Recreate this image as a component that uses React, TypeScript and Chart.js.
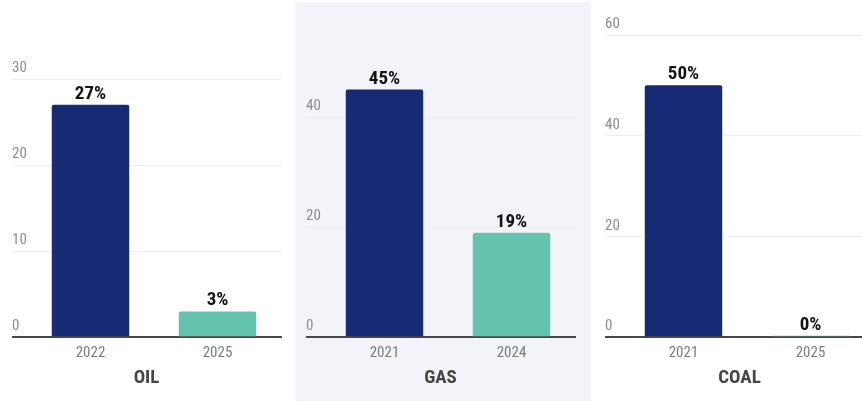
import React, { useEffect, useRef } from "react";
import { Chart, registerables } from "chart.js";
Chart.register(...registerables);

const FONT = '"Liberation Sans Narrow", "Roboto Condensed", Roboto, sans-serif';

const panelTitles = ["OIL", "GAS", "COAL"];
const oilYears = ["2022", "2025"];
const oilValues = [27, 3];
const gasYears = ["2021", "2024"];
const gasValues = [45, 19];
const coalYears = ["2021", "2025"];
const coalValues = [50, 0.3];
const axisMax = [30, 55, 60];
const axisStep = [10, 20, 20];

const NAVY = "#172a74";
const TEAL = "#63c3ad";

const valueLabelPlugin = {
  id: "valueLabels",
  afterDatasetsDraw(chart: any) {
    const ctx = chart.ctx;
    const meta = chart.getDatasetMeta(0);
    const data = chart.data.datasets[0].data;
    ctx.save();
    ctx.font = `bold 19px ${FONT}`;
    ctx.fillStyle = "#141414";
    ctx.textAlign = "center";
    ctx.textBaseline = "alphabetic";
    meta.data.forEach((bar: any, i: number) => {
      ctx.fillText(`${Math.round(data[i])}%`, bar.x, bar.y - 6);
    });
    ctx.restore();
  },
};

function Panel(props: {
  labels: string[];
  values: number[];
  max: number;
  step: number;
  title: string;
  top: number;
}) {
  const ref = useRef<HTMLCanvasElement>(null);
  useEffect(() => {
    if (!ref.current) return;
    const chart = new Chart(ref.current, {
      type: "bar",
      data: {
        labels: props.labels,
        datasets: [
          {
            data: props.values,
            backgroundColor: [NAVY, TEAL],
            borderRadius: 2,
            borderSkipped: "bottom",
            barPercentage: 0.61,
            categoryPercentage: 1,
          },
        ],
      },
      options: {
        responsive: false,
        animation: false,
        devicePixelRatio: 1,
        layout: { padding: { left: 11, right: 16, top: props.top, bottom: 0 } },
        plugins: {
          legend: { display: false },
          tooltip: { enabled: false },
          title: {
            display: true,
            position: "bottom",
            text: props.title,
            color: "#454545",
            font: { family: FONT, size: 19, weight: "bold", lineHeight: 1.2 },
            padding: { top: 5, bottom: 11 },
          },
        },
        scales: {
          x: {
            z: 1,
            grid: { display: false, drawTicks: false },
            border: { display: true, color: "#484848", width: 2 },
            ticks: {
              color: "#7a7a7a",
              font: { family: FONT, size: 15, lineHeight: 1.2 },
              padding: 7,
            },
            afterFit: (s: any) => {
              s.paddingLeft = 0;
              s.paddingRight = 0;
              s.height = 25;
            },
          },
          y: {
            min: 0,
            max: props.max,
            border: { display: false },
            grid: {
              color: (c: any) => (c.tick && c.tick.value === 0 ? "#484848" : "#eceef2"),
              lineWidth: (c: any) => (c.tick && c.tick.value === 0 ? 2 : 1),
              drawTicks: true,
              tickLength: 15,
            },
            ticks: {
              stepSize: props.step,
              includeBounds: false,
              crossAlign: "far",
              labelOffset: -10.5,
              color: "#8d8d8d",
              font: { family: FONT, size: 15, lineHeight: 1.2 },
            },
            afterFit: (s: any) => {
              s.width = 15;
              s.paddingTop = 0;
              s.paddingBottom = 0;
            },
          },
        },
      } as any,
      plugins: [valueLabelPlugin],
    });
    return () => chart.destroy();
  }, []);
  return <canvas ref={ref} width={296} height={399} style={{ display: "block", width: 296, height: 399 }} />;
}

export default function App() {
  const panelLefts = [1, 295, 594];
  const data = [
    { labels: oilYears, values: oilValues, top: 77 },
    { labels: gasYears, values: gasValues, top: 32.5 },
    { labels: coalYears, values: coalValues, top: 33 },
  ];
  return (
    <div
      style={{
        position: "absolute",
        left: 0,
        top: 0,
        width: 862,
        height: 403,
        overflow: "hidden",
        background: "#ffffff",
      }}
    >
      {data.map((d, i) => (
        <div
          key={i}
          style={{
            position: "absolute",
            left: panelLefts[i],
            top: 2,
            width: 296,
            height: 399,
            background: i === 1 ? "#f3f4f9" : "transparent",
          }}
        >
          <Panel
            labels={d.labels}
            values={d.values}
            max={axisMax[i]}
            step={axisStep[i]}
            title={panelTitles[i]}
            top={d.top}
          />
        </div>
      ))}
    </div>
  );
}
